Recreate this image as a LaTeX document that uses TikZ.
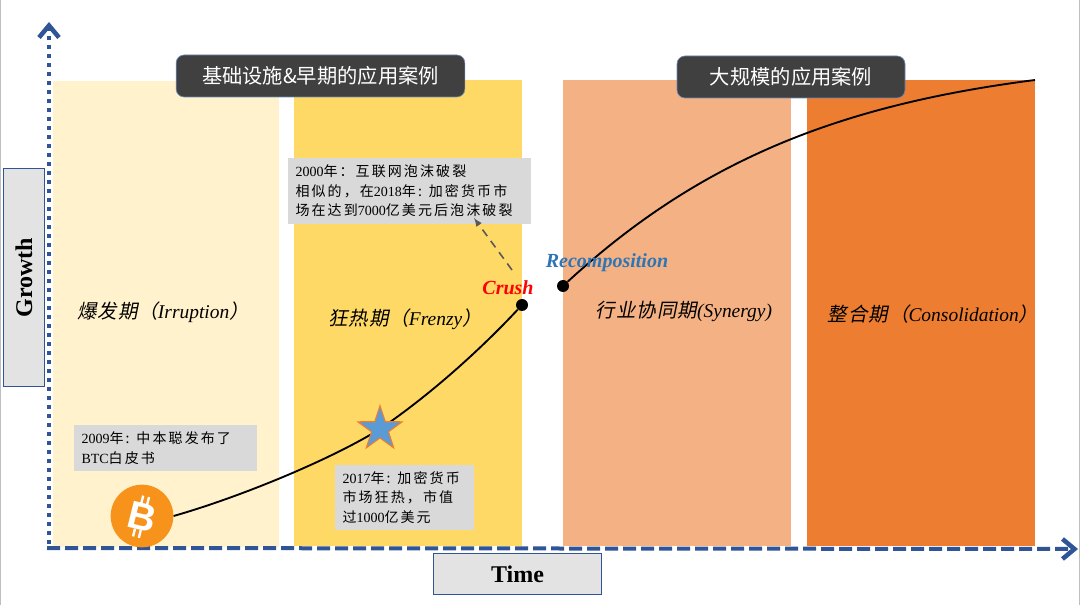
\documentclass[tikz,border=0pt]{standalone}
\usepackage{fontspec}
\setmainfont{Liberation Serif}
\newfontfamily\btcfont{Liberation Sans}
\newfontfamily\cjk{Noto Sans CJK SC}
\newfontfamily\cjknote[LetterSpace=15]{Noto Sans CJK SC}
\newfontfamily\cjkit[FakeSlant=0.2,LetterSpace=5]{Noto Sans CJK SC}
\usetikzlibrary{arrows.meta,shapes.geometric}
\definecolor{axisblue}{HTML}{2F5597}
\definecolor{boxgrey}{HTML}{D9D9D9}
\begin{document}
\begin{tikzpicture}
  [x=0.75pt,y=-0.75pt,
   panel/.style={minimum width=#1*0.75pt,minimum height=349.5pt,inner sep=0pt,outer sep=0pt},
   header/.style={rounded corners=6pt,fill=black!75,draw=axisblue!70,line width=0.5pt,text=white,font=\cjk\fontsize{15.2}{18}\selectfont,inner sep=0pt,outer sep=0pt},
   axisname/.style={fill=black!4!boxgrey!60,draw=axisblue,line width=0.6pt,inner sep=0pt,font=\bfseries\fontsize{18}{20}\selectfont},
   note/.style={fill=boxgrey,inner sep=0pt,align=left,text width=#1,font=\cjknote\fontsize{10.5}{14.5}\selectfont},
   phase/.style={font=\itshape\fontsize{14.6}{17}\selectfont,inner sep=0pt},
   point/.style={circle,fill=black,inner sep=0pt,minimum size=9pt},
   axis/.style={draw=axisblue,line width=3pt,-{Straight Barb[length=9pt,width=15pt,line width=3.4pt]}},
   curve/.style={line width=1.4pt},
   btctick/.style={draw=white,line width=1.8pt}]
  \useasboundingbox (0,0) rectangle (1080,605);
  \draw [black!25] (0.5,0) -- (0.5,605);
  \draw [black!25] (1079.5,0) -- (1079.5,605);

  \node (irruption) at (166,314) [panel=226,fill={rgb,255:red,255;green,242;blue,204}] {};
  \node (frenzy) at (408,313) [panel=228,fill={rgb,255:red,255;green,217;blue,102}] {};
  \node (synergy) at (677,313) [panel=228,fill={rgb,255:red,244;green,177;blue,131}] {};
  \node (consolidation) at (921,313) [panel=228,fill={rgb,255:red,237;green,125;blue,49}] {};

  \coordinate (origin) at (47,548);
  \coordinate (ytop) at (49,22);
  \coordinate (ybase) at (49,544);
  \coordinate (xtip) at (1078,549);
  \draw [axis,dash pattern=on 3pt off 3.75pt] (ybase) to (ytop);
  \draw [axis,dash pattern=on 9.8pt off 3.7pt] (origin) to (xtip);

  \node (infra) at (320.5,76) [header,minimum width=216.5pt,minimum height=31.5pt] {基础设施\&早期的应用案例};
  \node (scale) at (791,77) [header,minimum width=171pt,minimum height=31.5pt] {大规模的应用案例};

  \node (growth) at (24,277.5) [axisname,minimum width=31pt,minimum height=164pt] {\rotatebox{90}{Growth}};
  \node (time) at (517.5,574) [axisname,minimum width=126.5pt,minimum height=31pt] {Time};

  \node (irrlabel) at (163,312) [phase] {{\cjkit 爆发期（}Irruption{\cjkit ）}};
  \node (frelabel) at (405,319) [phase] {{\cjkit 狂热期（}Frenzy{\cjkit ）}};
  \node (synlabel) at (684,311) [phase] {{\cjkit 行业协同期}(Synergy)};
  \node (conlabel) at (933,314) [phase] {{\cjkit 整合期（}Consolidation{\cjkit ）}};

  \node (crushdot) at (522,305) [point] {};
  \node (recdot) at (563,286) [point] {};
  \coordinate (curveend) at (1035,80);
  \coordinate (starmid) at (380,429);
  \node (coin) at (142,516) [circle,fill={rgb,255:red,247;green,147;blue,26},minimum size=47pt,inner sep=0pt] {};

  \draw [curve] (coin.east) .. controls (240,497) and (330,460) .. (starmid);
  \draw [curve] (starmid) .. controls (430,395) and (480,350) .. (crushdot);
  \draw [curve] (recdot) .. controls (700,160) and (840,105) .. (curveend);
  \node (star) at (starmid) [star,star points=5,star point ratio=2.6,fill={rgb,255:red,91;green,155;blue,213},draw={rgb,255:red,237;green,125;blue,49},line width=0.8pt,minimum size=35pt,inner sep=0pt] {};

  \node (btc) at (142,517) [rotate=-14,text=white,inner sep=0pt,font=\btcfont\bfseries\fontsize{29}{29}\selectfont] {B};
  \begin{scope}[shift={(142,517)},rotate=-14]
    \draw [btctick] (-4,-21) -- (-4,-13);
    \draw [btctick] (2,-21) -- (2,-13);
    \draw [btctick] (-4,13) -- (-4,21);
    \draw [btctick] (2,13) -- (2,21);
  \end{scope}

  \node (bubble) at (409.5,191) [note=182pt,minimum height=49.5pt] {\hspace*{5.5pt}{\rmfamily 2000}年：互联网泡沫破裂\\\hspace*{5.5pt}相似的，在{\rmfamily 2018}年: 加密货币市\\\hspace*{5.5pt}场在达到{\rmfamily 7000}亿美元后泡沫破裂};
  \node (whitepaper) at (165.5,448) [note=137pt,minimum height=34.5pt] {\hspace*{5.5pt}{\rmfamily 2009}年: 中本聪发布了\\\hspace*{5.5pt}{\rmfamily BTC}白皮书};
  \node (mania) at (404.5,497.5) [note=104pt,minimum height=49pt] {\hspace*{5.5pt}{\rmfamily 2017}年: 加密货币\\\hspace*{5.5pt}市场狂热，市值\\\hspace*{5.5pt}过{\rmfamily 1000}亿美元};

  \node (crush) at (508,288) [text=red,inner sep=0pt,font=\bfseries\itshape\fontsize{15}{17}\selectfont] {Crush};
  \node (recomp) at (607,263) [text={rgb,255:red,46;green,117;blue,182},inner sep=0pt,font=\bfseries\itshape\fontsize{15}{17}\selectfont] {Recomposition};

  \coordinate (crushtop) at (512,270);
  \coordinate (bubbletip) at (474,218);
  \draw [-latex,draw=black!65,line width=1.2pt,dash pattern=on 6pt off 4.5pt] (crushtop) to (bubbletip);
\end{tikzpicture}
\end{document}
